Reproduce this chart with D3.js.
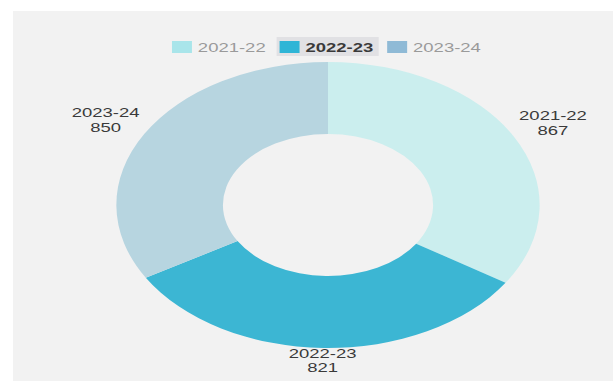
<!DOCTYPE html>
<html>
<head>
<meta charset="utf-8">
<script src="https://cdn.jsdelivr.net/npm/d3@7"></script>
<style>
  body { margin: 0; background: #fff; }
  svg { display: block; }
  text { font-family: "Liberation Sans", Arial, sans-serif; }
</style>
</head>
<body>
<div class="chart"></div>
<script>
var years = ["2021-22", "2022-23", "2023-24"];
var counts = [867, 821, 850];
var sliceColors = ["#cbeeee", "#3cb6d3", "#b7d5e0"];
var swatchColors = ["#a9e5ea", "#2fb5d6", "#8fbad6"];
var activeYear = "2022-23";

var svgWidth = 613;
var svgHeight = 381;
// the picture is stretched sideways, so draw in a narrower box and stretch it
var stretch = 1.48;
var vbWidth = svgWidth / stretch;

var svg = d3.select(".chart")
  .append("svg")
  .attr("width", svgWidth)
  .attr("height", svgHeight)
  .attr("viewBox", `0 0 ${vbWidth} ${svgHeight}`)
  .attr("preserveAspectRatio", "none");

// grey panel
svg.append("rect")
  .attr("x", 13 / stretch)
  .attr("y", 11)
  .attr("width", vbWidth)
  .attr("height", svgHeight)
  .attr("fill", "#f2f2f2");

var cx = 328 / stretch;
var cy = 205;
var outerR = 143;
var innerR = 71;

var data = years.map((y, i) => ({ year: y, value: counts[i] }));

var pie = d3.pie()
  .sort(null)
  .value(d => d.value);

var arc = d3.arc()
  .innerRadius(innerR)
  .outerRadius(outerR);

var labelArc = d3.arc()
  .innerRadius(173)
  .outerRadius(173);

var chartGroup = svg.append("g")
  .attr("transform", `translate(${cx}, ${cy})`);

var arcs = pie(data);

chartGroup.selectAll("path")
  .data(arcs)
  .enter()
  .append("path")
  .attr("d", arc)
  .attr("fill", (d, i) => sliceColors[i]);

// outside labels: name + value
var labels = chartGroup.selectAll(".slice-label")
  .data(arcs)
  .enter()
  .append("text")
  .attr("class", "slice-label")
  .attr("text-anchor", "middle")
  .attr("font-size", 12.5)
  .attr("fill", "#3a3a3a")
  .attr("transform", d => {
    var c = labelArc.centroid(d);
    // keep the label block inside the panel
    var maxY = svgHeight - cy - 21;
    return `translate(${c[0]}, ${Math.min(c[1], maxY)})`;
  });

labels.append("tspan")
  .attr("x", 0)
  .attr("y", -2)
  .text(d => d.data.year);

labels.append("tspan")
  .attr("x", 0)
  .attr("y", 12.5)
  .text(d => d.data.value);

// legend
var itemStep = 72.7;
var legendX = 116.2;
var legendGroup = svg.append("g")
  .attr("transform", `translate(${legendX}, 0)`);

var items = legendGroup.selectAll(".legend-item")
  .data(years)
  .enter()
  .append("g")
  .attr("class", "legend-item")
  .attr("transform", (d, i) => `translate(${i * itemStep}, 0)`);

items.filter(d => d === activeYear)
  .append("rect")
  .attr("x", -2)
  .attr("y", 37)
  .attr("width", 69)
  .attr("height", 19)
  .attr("fill", "#e1e1e4");

items.append("rect")
  .attr("x", 0)
  .attr("y", 41)
  .attr("width", 13.5)
  .attr("height", 12)
  .attr("fill", (d, i) => swatchColors[i]);

items.append("text")
  .attr("x", 17.5)
  .attr("y", 52)
  .attr("font-size", 12.5)
  .attr("font-weight", d => d === activeYear ? "bold" : "normal")
  .attr("fill", d => d === activeYear ? "#3a3a3a" : "#9a9a9a")
  .text(d => d);
</script>
</body>
</html>
